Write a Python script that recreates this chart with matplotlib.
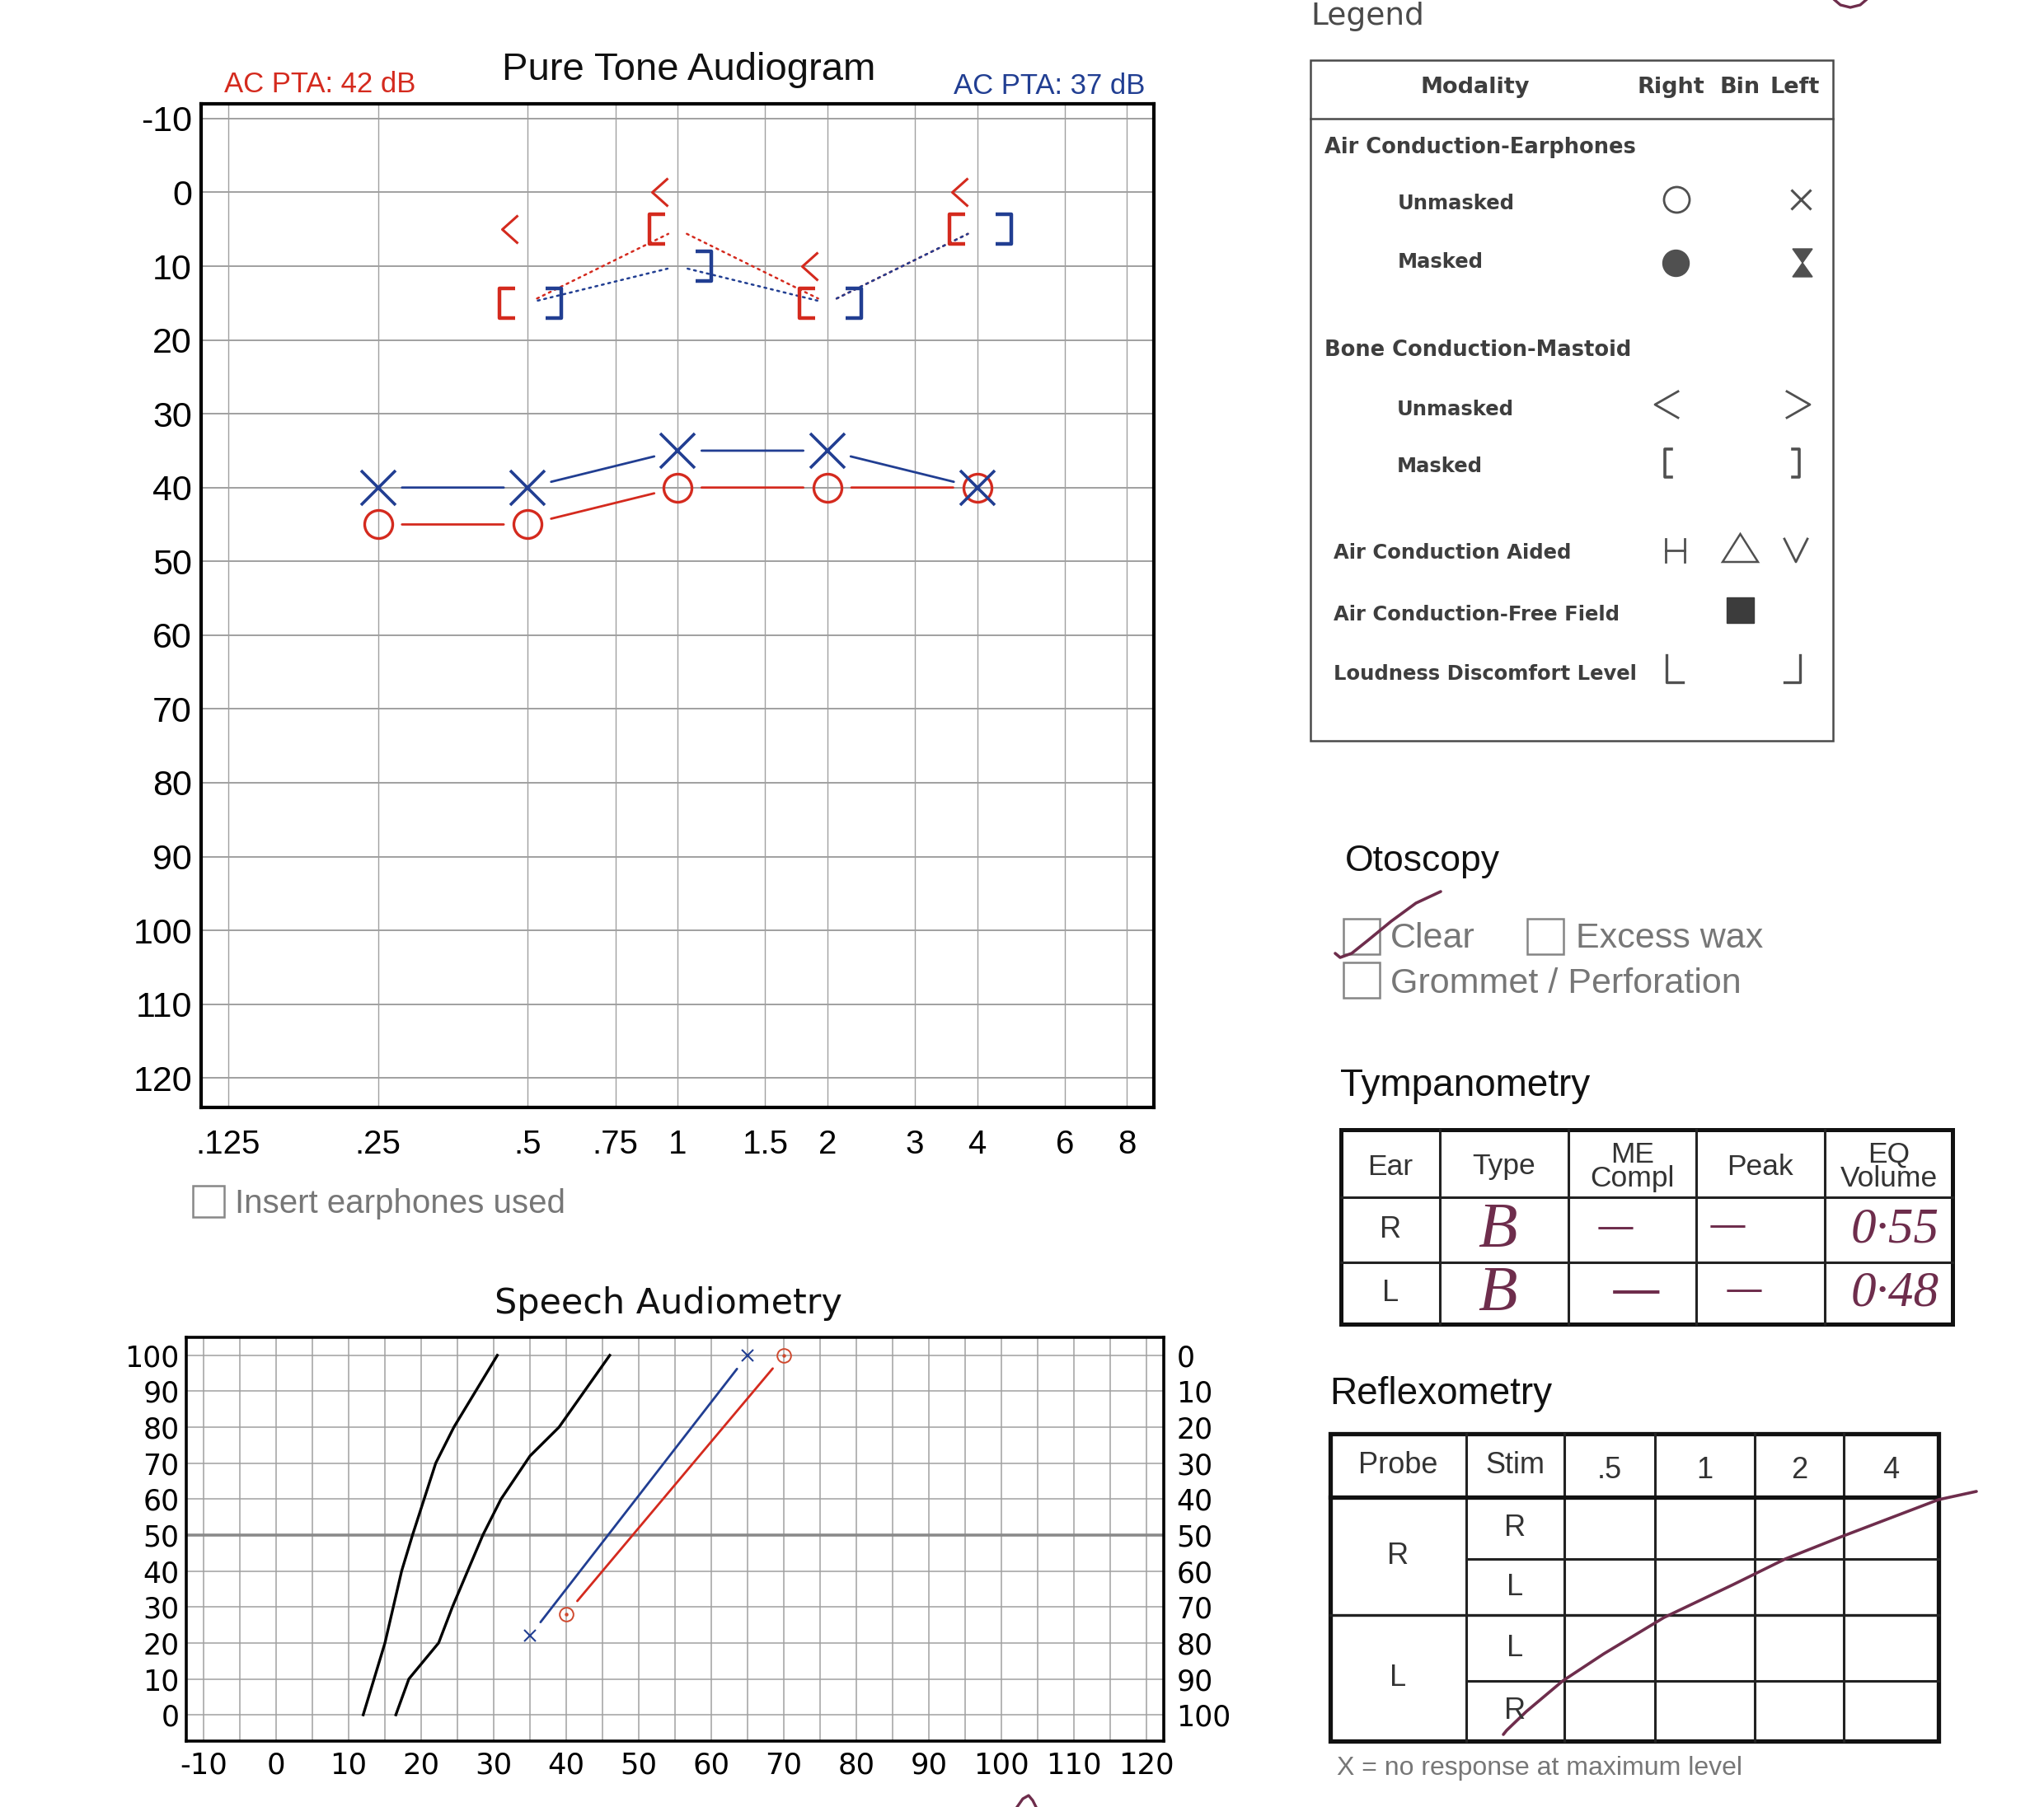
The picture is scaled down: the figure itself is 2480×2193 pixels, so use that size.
import numpy as np
import matplotlib
matplotlib.use('Agg')
import matplotlib.pyplot as plt
from matplotlib.path import Path
from matplotlib.markers import MarkerStyle
from matplotlib.patches import FancyArrowPatch, Rectangle, Polygon
from matplotlib.ticker import NullLocator, MultipleLocator

plt.rcParams['font.family'] = ['Liberation Sans', 'DejaVu Sans']

# ---------------- data ----------------
ac_freqs = [0.25, 0.5, 1, 2, 4]
right_ac = [45, 45, 40, 40, 40]
left_ac = [40, 40, 35, 35, 40]
bc_freqs = [0.5, 1, 2, 4]
right_bc_unmasked = [5, 0, 10, 0]
right_bc_masked = [15, 5, 15, 5]
left_bc_masked = [15, 10, 15, 5]
freq_ticks = [0.125, 0.25, 0.5, 0.75, 1, 1.5, 2, 3, 4, 6, 8]
freq_labels = ['.125', '.25', '.5', '.75', '1', '1.5', '2', '3', '4', '6', '8']
db_ticks = list(range(-10, 121, 10))
pta_right = 42
pta_left = 37

speech_norm1_db = [12, 15, 17.3, 18.8, 20.4, 22, 24.5, 30.5]
speech_norm1_pct = [0, 20, 40, 50, 60, 70, 80, 100]
speech_norm2_db = [16.5, 18.3, 22.4, 24.3, 26.4, 28.5, 31, 35, 39, 46]
speech_norm2_pct = [0, 10, 20, 30, 40, 50, 60, 72, 80, 100]
speech_left_db = [35, 65]
speech_left_pct = [22, 100]
speech_right_db = [40, 70]
speech_right_pct = [28, 100]
speech_x_ticks = list(range(-10, 121, 10))
speech_y_ticks = list(range(0, 101, 10))

tymp_cols = ['Ear', 'Type', 'ME\nCompl', 'Peak', 'EQ\nVolume']
tymp_ears = ['R', 'L']
tymp_type = ['B', 'B']
tymp_me = ['—', '—']
tymp_peak = ['—', '—']
tymp_eq = ['0·55', '0·48']

reflex_cols = ['Probe', 'Stim', '.5', '1', '2', '4']
reflex_probe = ['R', 'L']
reflex_stim = ['R', 'L', 'L', 'R']
otoscopy_options = ['Clear', 'Excess wax', 'Grommet / Perforation']

# ---------------- styles ----------------
RED = '#d42a1e'
BLUE = '#213e92'
PURPLE = '#6e2d4c'
GRAYTXT = '#777777'
GRID = '#a0a0a0'
LEGC = '#3e3e3e'
DPI = 100
W, H = 2480, 2193
PX = 72.0 / DPI

fig = plt.figure(figsize=(W / DPI, H / DPI), dpi=DPI)
fig.patch.set_facecolor('white')

def fax(l, t, r, b):
    return fig.add_axes([l / W, 1 - b / H, (r - l) / W, (b - t) / H])

ov = fig.add_axes([0, 0, 1, 1])
ov.set_xlim(0, W)
ov.set_ylim(H, 0)
ov.axis('off')

def pmarker(verts):
    v = np.array(verts, float)
    m = np.abs(v).max()
    return MarkerStyle(Path(v)), 2 * m * PX

# ================= Pure tone audiogram =================
ax = fax(244, 126, 1400, 1344)
ax.set_xscale('log')
ax.set_xlim(0.1103, 9.06)
ax.set_ylim(124, -12)
ax.set_xticks(freq_ticks, labels=freq_labels)
ax.xaxis.set_minor_locator(NullLocator())
ax.set_yticks(db_ticks, labels=[str(v) for v in db_ticks])
ax.tick_params(axis='x', length=0, labelsize=29, pad=19)
ax.tick_params(axis='y', length=0, labelsize=31, pad=8)
ax.xaxis.grid(True, color=GRID, lw=1.0)
ax.yaxis.grid(True, color=GRID, lw=1.4)
ax.set_axisbelow(True)
for s in ax.spines.values():
    s.set_linewidth(3.0)
    s.set_color('black')

def connect(a, xs, ys, color, shrink, ls='-', lw=2.0):
    for i in range(len(xs) - 1):
        p = FancyArrowPatch((xs[i], ys[i]), (xs[i + 1], ys[i + 1]), arrowstyle='-',
                            shrinkA=shrink, shrinkB=shrink, color=color, lw=lw,
                            linestyle=ls, zorder=3)
        a.add_patch(p)

connect(ax, ac_freqs, right_ac, RED, 21)
connect(ax, ac_freqs, left_ac, BLUE, 21)
connect(ax, bc_freqs, right_bc_masked, RED, 9, ls=(0, (1.0, 2.2)), lw=1.8)
connect(ax, bc_freqs, left_bc_masked, BLUE, 9, ls=(0, (1.0, 2.2)), lw=1.8)

ax.plot(ac_freqs, right_ac, ls='none', marker='o', ms=24.5, mfc='none', mec=RED, mew=2.4, zorder=4)
ax.plot(ac_freqs, left_ac, ls='none', marker='x', ms=30, mec=BLUE, mew=2.6, zorder=5)

lt_m, lt_ms = pmarker([(-12, 17), (-31, 0), (-12, -17)])
lb_m, lb_ms = pmarker([(-15, 18), (-34, 18), (-34, -18), (-15, -18)])
rb_m, rb_ms = pmarker([(22, 18), (41, 18), (41, -18), (22, -18)])
ax.plot(bc_freqs, right_bc_unmasked, ls='none', marker=lt_m, ms=lt_ms, mfc='none', mec=RED, mew=2.2, zorder=4)
ax.plot(bc_freqs, right_bc_masked, ls='none', marker=lb_m, ms=lb_ms, mfc='none', mec=RED, mew=3.2, zorder=4)
ax.plot(bc_freqs, left_bc_masked, ls='none', marker=rb_m, ms=rb_ms, mfc='none', mec=BLUE, mew=3.2, zorder=4)

ov.text(836, 85, 'Pure Tone Audiogram', fontsize=34, ha='center', va='center', color='#111111')
ov.text(272, 103, f'AC PTA: {pta_right} dB', fontsize=25, ha='left', va='center', color=RED)
ov.text(1389, 104, f'AC PTA: {pta_left} dB', fontsize=25, ha='right', va='center', color=BLUE)
ov.text(284, 172, 'dB HL', fontsize=29, ha='left', va='center', color='#111111')
ov.text(1367, 1310, 'kHz', fontsize=30, ha='right', va='center', color='#111111')
ov.add_patch(Rectangle((234, 1439), 38, 38, fill=False, ec='#888888', lw=1.8))
ov.text(285, 1461, 'Insert earphones used', fontsize=29, ha='left', va='center', color=GRAYTXT)

# ================= Speech audiometry =================
sx = fax(226, 1623, 1412, 2113)
sx.set_xlim(-12.4, 122.4)
sx.set_ylim(-7.3, 105)
sx.set_xticks(speech_x_ticks, labels=[str(v) for v in speech_x_ticks])
sx.xaxis.set_minor_locator(MultipleLocator(5))
sx.set_yticks(speech_y_ticks, labels=[str(v) for v in speech_y_ticks])
sx.tick_params(which='both', length=0)
sx.tick_params(axis='x', labelsize=25.5, pad=9)
sx.tick_params(axis='y', labelsize=25, pad=6)
for lab in sx.get_xticklabels() + sx.get_yticklabels():
    lab.set_family('DejaVu Sans')
sx.xaxis.grid(True, which='both', color=GRID, lw=1.1)
sx.yaxis.grid(True, color=GRID, lw=1.1)
sx.set_axisbelow(True)
sx.axhline(50, color='#8a8a8a', lw=2.6, zorder=1)
for s in sx.spines.values():
    s.set_linewidth(2.6)
    s.set_color('black')
sec = sx.secondary_yaxis('right', functions=(lambda y: 100 - y, lambda y: 100 - y))
sec.set_yticks(speech_y_ticks, labels=[str(v) for v in speech_y_ticks])
sec.tick_params(length=0, labelsize=25, pad=11)
for lab in sec.get_yticklabels():
    lab.set_family('DejaVu Sans')
sec.spines['right'].set_visible(False)

sx.plot(speech_norm1_db, speech_norm1_pct, color='black', lw=2.4, zorder=3)
sx.plot(speech_norm2_db, speech_norm2_pct, color='black', lw=2.4, zorder=3)
connect(sx, speech_left_db, speech_left_pct, BLUE, 15, lw=2.0)
connect(sx, speech_right_db, speech_right_pct, RED, 15, lw=2.0)
sx.plot(speech_left_db, speech_left_pct, ls='none', marker='x', ms=9.5, mec=BLUE, mew=1.5, zorder=4)
sx.plot(speech_right_db, speech_right_pct, ls='none', marker='o', ms=12, mfc='none', mec='#d0492e', mew=1.4, zorder=4)
sx.plot(speech_right_db, speech_right_pct, ls='none', marker='o', ms=2.2, mfc='#d0492e', mec='#d0492e', zorder=4)

ov.text(811, 1582, 'Speech Audiometry', fontsize=31, ha='center', va='center', family='DejaVu Sans', color='#111111')
ov.text(247, 1659, '% SR', fontsize=27, ha='left', va='center', family='DejaVu Sans', color='#111111')
ov.text(1342, 1667, '% SD', fontsize=27, ha='right', va='center', family='DejaVu Sans', color='#111111')
ov.text(1388, 2070, 'dB', fontsize=27, ha='right', va='center', family='DejaVu Sans', color='#111111')

# ================= Legend box =================
LF = 'DejaVu Sans'
ov.text(1590, 30, 'Legend', fontsize=27, ha='left', va='baseline', family=LF, color='#4a4a4a')
ov.add_patch(Rectangle((1590, 73), 634, 826, fill=False, ec='#4a4a4a', lw=1.8))
ov.plot([1590, 2224], [144, 144], color='#4a4a4a', lw=1.8)
ov.text(1790, 106, 'Modality', fontsize=19.5, weight='bold', ha='center', va='center', family=LF, color=LEGC)
for t, x in [('Right', 2027), ('Bin', 2111), ('Left', 2178)]:
    ov.text(x, 106, t, fontsize=19.5, weight='bold', ha='center', va='center', family=LF, color=LEGC)
rows = [('Air Conduction-Earphones', 1607, 179, 18.5), ('Unmasked', 1696, 247, 17.5),
        ('Masked', 1696, 318, 17.5), ('Bone Conduction-Mastoid', 1607, 425, 18.5),
        ('Unmasked', 1695, 497, 17.5), ('Masked', 1695, 566, 17.5),
        ('Air Conduction Aided', 1618, 671, 17.5), ('Air Conduction-Free Field', 1618, 746, 17.5),
        ('Loudness Discomfort Level', 1618, 818, 17.5)]
for t, x, y, fs in rows:
    ov.text(x, y, t, fontsize=fs, weight='bold', ha='left', va='center', family=LF, color=LEGC)
SYM = '#505050'
ov.plot([2034], [242], marker='o', ms=31 * PX, mfc='none', mec=SYM, mew=2.0)
ov.plot([2185], [242], marker='x', ms=24 * PX, mec=SYM, mew=2.2)
ov.plot([2033], [319], marker='o', ms=32 * PX, mfc=SYM, mec=SYM)
ov.add_patch(Polygon([(2175, 302), (2199, 302), (2175, 336), (2199, 336)], closed=True, fc=SYM, ec=SYM, lw=1))
ov.plot([2036, 2008, 2036], [475, 491, 507], color=SYM, lw=2.0)
ov.plot([2168, 2196, 2168], [475, 491, 507], color=SYM, lw=2.0)
ov.plot([2028, 2020, 2020, 2028], [545, 545, 579, 579], color=SYM, lw=2.6)
ov.plot([2175, 2183, 2183, 2175], [545, 545, 579, 579], color=SYM, lw=2.6)
ov.plot([2021, 2021], [654, 682], color=SYM, lw=2.0)
ov.plot([2044, 2044], [654, 682], color=SYM, lw=2.0)
ov.plot([2021, 2044], [668, 668], color=SYM, lw=2.0)
ov.add_patch(Polygon([(2090, 682), (2133, 682), (2111.5, 648)], closed=True, fill=False, ec=SYM, lw=1.8))
ov.plot([2165, 2179, 2193], [654, 682, 654], color=SYM, lw=2.0)
ov.add_patch(Rectangle((2095, 725), 33, 31, fc='#3c3c3c', ec='#3c3c3c'))
ov.plot([2022, 2022, 2042], [795, 828, 828], color=SYM, lw=2.4)
ov.plot([2184, 2184, 2165], [795, 828, 828], color=SYM, lw=2.4)

# ================= Otoscopy =================
ov.text(1632, 1045, 'Otoscopy', fontsize=32, ha='left', va='center', color='#111111')
boxes = [(1630, 1115), (1853, 1115), (1630, 1168)]
tpos = [(1687, 1139), (1912, 1139), (1687, 1194)]
for (bx, by), (tx, ty), t in zip(boxes, tpos, otoscopy_options):
    ov.add_patch(Rectangle((bx, by), 44, 43, fill=False, ec='#858585', lw=1.8))
    ov.text(tx, ty, t, fontsize=31, ha='left', va='center', color=GRAYTXT)
chk_x = [1620, 1626, 1640, 1660, 1688, 1718, 1748]
chk_y = [1157, 1162, 1157, 1141, 1118, 1096, 1082]
ov.plot(chk_x, chk_y, color=PURPLE, lw=2.6, solid_capstyle='round')

# ================= Tympanometry =================
ov.text(1626, 1318, 'Tympanometry', fontsize=33, ha='left', va='center', color='#111111')
tcols = [1627, 1747, 1903, 2058, 2214, 2369]
trows = [1371, 1453, 1532, 1607]
for x in tcols[1:-1]:
    ov.plot([x, x], [trows[0], trows[-1]], color='#222222', lw=2.2)
for y in trows[1:-1]:
    ov.plot([tcols[0], tcols[-1]], [y, y], color='#222222', lw=2.2)
ov.add_patch(Rectangle((tcols[0], trows[0]), tcols[-1] - tcols[0], trows[-1] - trows[0],
                       fill=False, ec='#111111', lw=3.6))
for i, t in enumerate(tymp_cols):
    cx = (tcols[i] + tcols[i + 1]) / 2
    ov.text(cx, 1416, t, fontsize=25.5, ha='center', va='center', color='#333333', linespacing=0.85)
HW = dict(family=['Liberation Serif', 'DejaVu Serif'], style='italic', color=PURPLE)
for r in range(2):
    cy = (trows[r + 1] + trows[r + 2]) / 2
    ov.text((tcols[0] + tcols[1]) / 2, cy, tymp_ears[r], fontsize=26, ha='center', va='center', color='#333333')
    ov.text((tcols[1] + tcols[2]) / 2 - 8, cy + 2, tymp_type[r], fontsize=56, ha='center', va='center', **HW)
    ov.text((tcols[2] + tcols[3]) / 2 - 20 + 25 * r, cy - 2, tymp_me[r], fontsize=30 + 10 * r,
            weight='bold', ha='center', va='center', **HW)
    ov.text((tcols[3] + tcols[4]) / 2 - 40 + 20 * r, cy - 4, tymp_peak[r], fontsize=30,
            weight='bold', ha='center', va='center', **HW)
    ov.text((tcols[4] + tcols[5]) / 2 + 8, cy, tymp_eq[r], fontsize=44, ha='center', va='center', **HW)

# ================= Reflexometry =================
ov.text(1613, 1692, 'Reflexometry', fontsize=33, ha='left', va='center', color='#111111')
rcols = [1614, 1779, 1898, 2008, 2129, 2237, 2352]
rrows = [1740, 1817, 1892, 1960, 2040, 2113]
for x in rcols[1:-1]:
    ov.plot([x, x], [rrows[0], rrows[-1]], color='#222222', lw=2.2)
ov.plot([rcols[0], rcols[-1]], [rrows[1], rrows[1]], color='#111111', lw=3.8)
ov.plot([rcols[0], rcols[-1]], [rrows[3], rrows[3]], color='#222222', lw=2.4)
for y in (rrows[2], rrows[4]):
    ov.plot([rcols[1], rcols[-1]], [y, y], color='#222222', lw=2.2)
ov.add_patch(Rectangle((rcols[0], rrows[0]), rcols[-1] - rcols[0], rrows[-1] - rrows[0],
                       fill=False, ec='#111111', lw=3.8))
for i, t in enumerate(reflex_cols):
    cx = (rcols[i] + rcols[i + 1]) / 2
    ov.text(cx, 1779 if i < 2 else 1784, t, fontsize=26, ha='center', va='center', color='#333333')
for i, t in enumerate(reflex_probe):
    ov.text((rcols[0] + rcols[1]) / 2, (rrows[1 + 2 * i] + rrows[3 + 2 * i]) / 2, t, fontsize=26,
            ha='center', va='center', color='#333333')
for i, t in enumerate(reflex_stim):
    ov.text((rcols[1] + rcols[2]) / 2, (rrows[1 + i] + rrows[2 + i]) / 2, t, fontsize=26,
            ha='center', va='center', color='#333333')
ov.text(1622, 2146, 'X = no response at maximum level', fontsize=23, ha='left', va='center', color=GRAYTXT)
rc_x = [1824, 1828, 1852, 1896, 1946, 2019, 2103, 2166, 2234, 2352, 2398]
rc_y = [2105, 2100, 2077, 2040, 2007, 1963, 1923, 1892, 1865, 1820, 1810]
ov.plot(rc_x, rc_y, color=PURPLE, lw=2.6, solid_capstyle='round')

# stray handwriting fragments at page edges
ov.plot([2226, 2233, 2245, 2257, 2264], [0, 6, 9, 6, 0], color=PURPLE, lw=2.4)
ov.plot([1234, 1241, 1248, 1253, 1257], [2193, 2183, 2179, 2185, 2193], color=PURPLE, lw=2.4)

fig.savefig('out.png', dpi=DPI, facecolor='white')
